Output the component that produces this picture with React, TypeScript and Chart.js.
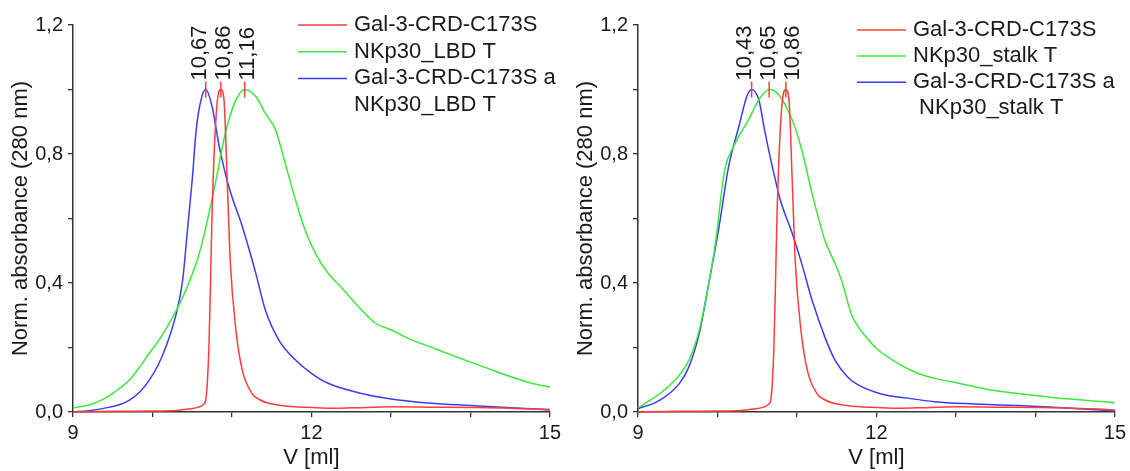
import React, { useEffect, useRef } from 'react';
import { Chart, registerables } from 'chart.js';

Chart.register(...registerables);

const FONT = '"Liberation Sans", Arial, Helvetica, sans-serif';
const TEXT = '#1a1a1a';
const AXIS = '#333333';
const RED = 'rgb(255,60,60)';
const GREEN = 'rgb(60,232,60)';
const BLUE = 'rgb(60,60,240)';

// ---------- data ----------
const xTicksLabelled = [9, 12, 15];

// Gal-3-CRD-C173S (same sample in both panels)
const galV = [9.0, 9.5, 10.0, 10.3, 10.45, 10.59, 10.65, 10.67, 10.69, 10.71, 10.73, 10.75, 10.79, 10.83, 10.86, 10.9, 10.94, 10.98, 11.05, 11.13, 11.25, 11.35, 11.46, 11.6, 11.8, 12.0, 12.25, 12.5, 13.0, 13.5, 14.0, 14.5, 14.8, 15.0];
const galA = [0.0, 0.002, 0.003, 0.005, 0.009, 0.016, 0.026, 0.037, 0.09, 0.2, 0.4, 0.616, 0.874, 0.988, 1.0, 0.967, 0.72, 0.461, 0.254, 0.13, 0.058, 0.038, 0.027, 0.021, 0.016, 0.014, 0.012, 0.013, 0.016, 0.015, 0.014, 0.012, 0.009, 0.006];

// NKp30_LBD T
const lbdV = [9.0, 9.2, 9.35, 9.5, 9.6, 9.71, 9.84, 9.96, 10.1, 10.21, 10.32, 10.42, 10.59, 10.71, 10.8, 10.88, 10.96, 11.05, 11.16, 11.3, 11.42, 11.55, 11.67, 11.8, 11.92, 12.05, 12.21, 12.38, 12.59, 12.8, 13.0, 13.21, 13.59, 13.92, 14.21, 14.5, 14.75, 15.0];
const lbdA = [0.013, 0.022, 0.036, 0.058, 0.076, 0.099, 0.14, 0.182, 0.23, 0.275, 0.325, 0.378, 0.492, 0.616, 0.72, 0.823, 0.905, 0.967, 1.0, 0.978, 0.926, 0.874, 0.771, 0.657, 0.564, 0.492, 0.43, 0.385, 0.327, 0.276, 0.255, 0.229, 0.193, 0.162, 0.136, 0.11, 0.091, 0.077];

// Gal-3-CRD-C173S + NKp30_LBD T
const galLbdV = [9.0, 9.2, 9.4, 9.6, 9.71, 9.84, 9.96, 10.07, 10.17, 10.3, 10.38, 10.44, 10.5, 10.55, 10.61, 10.67, 10.75, 10.84, 10.96, 11.13, 11.3, 11.42, 11.59, 11.8, 12.0, 12.21, 12.59, 13.0, 13.5, 14.0, 14.5, 15.0];
const galLbdA = [0.0, 0.004, 0.012, 0.024, 0.037, 0.062, 0.099, 0.145, 0.203, 0.306, 0.409, 0.564, 0.72, 0.874, 0.967, 1.0, 0.947, 0.823, 0.699, 0.575, 0.43, 0.316, 0.223, 0.161, 0.12, 0.089, 0.06, 0.04, 0.027, 0.02, 0.013, 0.008];

// NKp30_stalk T
const stalkV = [9.0, 9.27, 9.48, 9.64, 9.77, 9.89, 9.98, 10.06, 10.1, 10.19, 10.29, 10.39, 10.52, 10.65, 10.77, 10.94, 11.06, 11.19, 11.35, 11.48, 11.56, 11.69, 11.77, 11.9, 12.02, 12.27, 12.52, 12.77, 13.02, 13.44, 13.94, 14.44, 15.0];
const stalkA = [0.013, 0.056, 0.103, 0.16, 0.253, 0.398, 0.533, 0.70, 0.761, 0.818, 0.865, 0.906, 0.968, 1.0, 0.984, 0.906, 0.813, 0.678, 0.533, 0.46, 0.409, 0.30, 0.265, 0.224, 0.193, 0.151, 0.12, 0.102, 0.09, 0.068, 0.053, 0.04, 0.029];

// Gal-3-CRD-C173S + NKp30_stalk T
const galStalkV = [9.0, 9.27, 9.52, 9.64, 9.77, 9.89, 10.02, 10.14, 10.27, 10.37, 10.43, 10.52, 10.6, 10.69, 10.79, 10.94, 11.06, 11.19, 11.35, 11.48, 11.64, 11.77, 12.06, 12.39, 12.73, 13.23, 13.85, 14.48, 15.0];
const galStalkA = [0.01, 0.036, 0.088, 0.14, 0.243, 0.398, 0.575, 0.761, 0.886, 0.979, 1.0, 0.968, 0.865, 0.761, 0.658, 0.554, 0.46, 0.347, 0.233, 0.16, 0.108, 0.084, 0.056, 0.043, 0.032, 0.025, 0.019, 0.011, 0.004];

const lbdPeaks = [10.67, 10.86, 11.16];
const stalkPeaks = [10.43, 10.65, 10.86];

const lbdLegend = [['Gal-3-CRD-C173S'], ['NKp30_LBD T'], ['Gal-3-CRD-C173S a', 'NKp30_LBD T']];
const stalkLegend = [['Gal-3-CRD-C173S'], ['NKp30_stalk T'], ['Gal-3-CRD-C173S a', ' NKp30_stalk T']];

const xTitle = 'V [ml]';
const yTitle = 'Norm. absorbance (280 nm)';

// ---------- helpers ----------
const pts = (vs: number[], as: number[]) => vs.map((v, i) => ({ x: v, y: as[i] }));
const fmtComma = (v: number, d: number) => v.toFixed(d).replace('.', ',');

const annotPlugin = {
  id: 'annot',
  afterDatasetsDraw(chart: any, _args: any, opts: any) {
    const { ctx } = chart;
    const xs = chart.scales.x;
    const ys = chart.scales.y;
    const peaks: number[] = opts.peaks || [];
    const py = ys.getPixelForValue(1.0);
    ctx.save();
    // red peak markers
    ctx.strokeStyle = RED;
    ctx.lineWidth = 1.5;
    const px = peaks.map((p) => xs.getPixelForValue(p));
    px.forEach((x: number) => {
      ctx.beginPath();
      ctx.moveTo(x, py - 8);
      ctx.lineTo(x, py + 8);
      ctx.stroke();
    });
    // label placement with minimum spacing, kept centred on the peaks
    const gap = 24;
    const pos = px.slice();
    for (let i = 1; i < pos.length; i++) pos[i] = Math.max(pos[i], pos[i - 1] + gap);
    const mean = (a: number[]) => a.reduce((s, v) => s + v, 0) / (a.length || 1);
    const shift = mean(px) - mean(pos);
    ctx.fillStyle = TEXT;
    ctx.font = `22px ${FONT}`;
    ctx.textAlign = 'left';
    ctx.textBaseline = 'middle';
    pos.forEach((x: number, i: number) => {
      ctx.save();
      ctx.translate(x + shift, py - 9);
      ctx.rotate(-Math.PI / 2);
      ctx.fillText(fmtComma(peaks[i], 2), 0, 0);
      ctx.restore();
    });
    // legend
    const lg = opts.legend;
    if (lg) {
      let row = 0;
      lg.items.forEach((lines: string[], i: number) => {
        const yy = lg.y + row * lg.rowH;
        ctx.strokeStyle = lg.colors[i];
        ctx.lineWidth = 1.5;
        ctx.beginPath();
        ctx.moveTo(lg.x, yy);
        ctx.lineTo(lg.x + lg.lineLen, yy);
        ctx.stroke();
        ctx.fillStyle = TEXT;
        ctx.font = `22px ${FONT}`;
        ctx.textAlign = 'left';
        ctx.textBaseline = 'middle';
        lines.forEach((t, k) => {
          ctx.fillText(t, lg.x + lg.lineLen + lg.gap, yy + k * lg.rowH);
        });
        row += lines.length;
      });
    }
    ctx.restore();
  },
};

type PanelProps = {
  left: number;
  series: { v: number[]; a: number[]; color: string }[];
  peaks: number[];
  legendItems: string[][];
  legendX: number;
  legendY: number;
  legendRowH: number;
};

function Panel(props: PanelProps) {
  const ref = useRef<HTMLCanvasElement | null>(null);
  useEffect(() => {
    if (!ref.current) return;
    const chart = new Chart(ref.current, {
      type: 'line',
      data: {
        datasets: props.series.map((s) => ({
          data: pts(s.v, s.a),
          borderColor: s.color,
          backgroundColor: s.color,
          borderWidth: 1.5,
          pointRadius: 0,
          fill: false,
          cubicInterpolationMode: 'monotone' as const,
          clip: 4,
        })),
      },
      options: {
        responsive: false,
        animation: false,
        events: [],
        layout: { padding: { top: 25, right: 12, bottom: 0, left: 0 } },
        plugins: {
          legend: { display: false },
          tooltip: { enabled: false },
          annot: {
            peaks: props.peaks,
            legend: {
              x: props.legendX,
              y: props.legendY,
              lineLen: 49,
              gap: 7,
              rowH: props.legendRowH,
              items: props.legendItems,
              colors: props.series.map((s) => s.color),
            },
          },
        } as any,
        scales: {
          x: {
            type: 'linear',
            min: 9,
            max: 15,
            afterFit: (s: any) => {
              s.height = 59;
            },
            border: { display: true, color: AXIS, width: 1.5 },
            grid: { drawOnChartArea: false, drawTicks: true, tickLength: 5, color: AXIS, lineWidth: 1.3 },
            ticks: {
              stepSize: 1,
              padding: 4,
              color: TEXT,
              font: { family: FONT, size: 20 },
              maxRotation: 0,
              autoSkip: false,
              callback: (v: any) => (xTicksLabelled.includes(Number(v)) ? String(v) : ''),
            },
            title: {
              display: true,
              text: xTitle,
              color: TEXT,
              font: { family: FONT, size: 22, lineHeight: 1.2 },
              padding: { top: 0, bottom: 0 },
            },
          },
          y: {
            type: 'linear',
            min: 0,
            max: 1.2,
            afterFit: (s: any) => {
              s.width = 73;
            },
            border: { display: true, color: AXIS, width: 1.5 },
            grid: { drawOnChartArea: false, drawTicks: true, tickLength: 5, color: AXIS, lineWidth: 1.3 },
            ticks: {
              stepSize: 0.2,
              padding: 5,
              color: TEXT,
              font: { family: FONT, size: 20 },
              autoSkip: false,
              callback: (v: any) => (Math.round(Number(v) * 10) % 4 === 0 ? fmtComma(Number(v), 1) : ''),
            },
            title: {
              display: true,
              text: yTitle,
              color: TEXT,
              font: { family: FONT, size: 22, lineHeight: 1.2 },
              padding: { top: 8, bottom: 0 },
            },
          },
        },
      } as any,
      plugins: [annotPlugin],
    });
    return () => chart.destroy();
  }, []);
  return (
    <canvas
      ref={ref}
      width={565}
      height={471}
      style={{ position: 'absolute', left: props.left, top: 0, width: 565, height: 471, display: 'block' }}
    />
  );
}

export default function App() {
  return (
    <div style={{ position: 'absolute', left: 0, top: 0, width: 1130, height: 471, background: '#fff', overflow: 'hidden' }}>
      <Panel
        left={0}
        series={[
          { v: galV, a: galA, color: RED },
          { v: lbdV, a: lbdA, color: GREEN },
          { v: galLbdV, a: galLbdA, color: BLUE },
        ]}
        peaks={lbdPeaks}
        legendItems={lbdLegend}
        legendX={298}
        legendY={25}
        legendRowH={26.7}
      />
      <Panel
        left={565}
        series={[
          { v: galV, a: galA, color: RED },
          { v: stalkV, a: stalkA, color: GREEN },
          { v: galStalkV, a: galStalkA, color: BLUE },
        ]}
        peaks={stalkPeaks}
        legendItems={stalkLegend}
        legendX={292}
        legendY={30}
        legendRowH={26.1}
      />
    </div>
  );
}
